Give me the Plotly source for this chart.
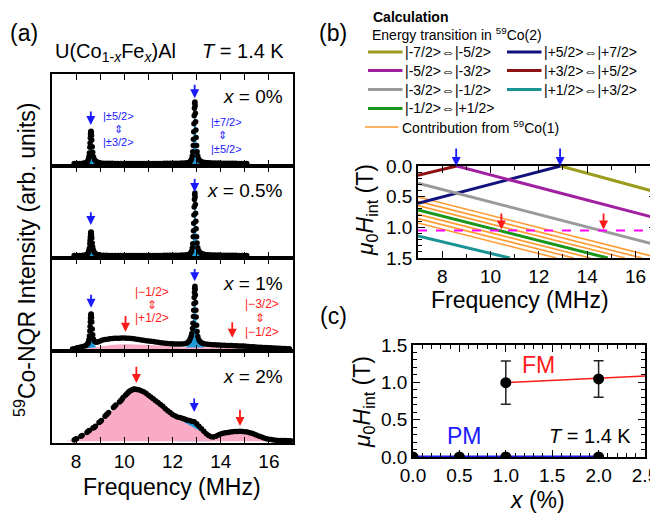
import plotly.graph_objects as go

# page is offset by the browser's default 8 px body margin; compensate
OFF = 8
W, H = 650, 510
FONT = "Liberation Sans, Arial, sans-serif"

# ---------------- panel (a): 59Co-NQR spectra (frequency MHz, intensity arb.) ----------------
spec_x0 = [(7.92,0.010),(8.04,0.010),(8.16,0.012),(8.28,0.014),(8.36,0.018),(8.42,0.025),(8.47,0.04),
           (8.50,0.07),(8.53,0.12),(8.55,0.18),(8.57,0.27),(8.58,0.34),(8.59,0.42),(8.60,0.48),(8.61,0.52),
           (8.62,0.53),(8.63,0.51),(8.64,0.46),(8.65,0.39),(8.67,0.28),(8.69,0.19),(8.72,0.12),(8.76,0.075),
           (8.81,0.050),(8.87,0.035),(8.94,0.025),(9.02,0.019),
           (9.14,0.015),(9.26,0.014),(9.38,0.013),(9.50,0.013),(9.62,0.012),(9.74,0.012),(9.86,0.012),(9.98,0.011),
           (10.10,0.011),(10.22,0.011),(10.34,0.011),(10.46,0.011),(10.58,0.011),(10.70,0.011),(10.82,0.011),
           (10.94,0.011),(11.06,0.012),(11.18,0.012),(11.30,0.012),(11.42,0.012),(11.54,0.012),(11.66,0.013),
           (11.78,0.013),(11.90,0.013),(12.02,0.014),(12.14,0.015),(12.26,0.016),(12.38,0.017),(12.50,0.019),
           (12.60,0.022),(12.66,0.026),(12.71,0.032),(12.75,0.05),(12.79,0.08),(12.82,0.13),(12.84,0.20),
           (12.86,0.30),(12.87,0.40),(12.88,0.52),(12.89,0.65),(12.90,0.78),(12.91,0.90),(12.92,0.98),
           (12.93,1.00),(12.94,0.94),(12.95,0.82),(12.96,0.68),(12.97,0.55),(12.98,0.43),(13.00,0.30),
           (13.02,0.20),(13.05,0.13),(13.09,0.08),(13.14,0.055),(13.20,0.040),(13.27,0.032),(13.35,0.027),
           (13.44,0.023),(13.54,0.021),(13.66,0.020),(13.78,0.018),(13.90,0.017),(14.02,0.016),
           (14.14,0.015),(14.26,0.014),(14.38,0.014),(14.50,0.013),(14.62,0.013),(14.74,0.012),(14.86,0.012),
           (14.98,0.012),(15.08,0.011)]

spec_x05 = [(7.92,0.010),(8.04,0.010),(8.16,0.011),(8.28,0.013),(8.36,0.016),(8.42,0.022),(8.47,0.035),
            (8.50,0.055),(8.53,0.09),(8.55,0.13),(8.57,0.20),(8.58,0.25),(8.59,0.30),(8.60,0.35),(8.61,0.38),
            (8.62,0.39),(8.63,0.375),(8.64,0.34),(8.65,0.29),(8.67,0.21),(8.69,0.145),(8.72,0.095),(8.76,0.06),
            (8.81,0.040),(8.87,0.028),(8.94,0.021),(9.02,0.016),
            (9.14,0.014),(9.26,0.013),(9.38,0.012),(9.50,0.012),(9.62,0.012),(9.74,0.011),(9.86,0.011),(9.98,0.011),
            (10.10,0.011),(10.22,0.011),(10.34,0.011),(10.46,0.011),(10.58,0.011),(10.70,0.011),(10.82,0.011),
            (10.94,0.011),(11.06,0.011),(11.18,0.012),(11.30,0.012),(11.42,0.012),(11.54,0.012),(11.66,0.013),
            (11.78,0.013),(11.90,0.013),(12.02,0.014),(12.14,0.015),(12.26,0.016),(12.38,0.018),(12.50,0.020),
            (12.60,0.023),(12.66,0.027),(12.71,0.033),(12.75,0.05),(12.79,0.08),(12.82,0.13),(12.84,0.20),
            (12.86,0.31),(12.87,0.41),(12.88,0.53),(12.89,0.66),(12.90,0.79),(12.91,0.91),(12.92,0.99),
            (12.93,1.015),(12.94,0.95),(12.95,0.83),(12.96,0.69),(12.97,0.56),(12.98,0.44),(13.00,0.31),
            (13.02,0.21),(13.05,0.135),(13.09,0.085),(13.14,0.058),(13.20,0.042),(13.27,0.033),(13.35,0.027),
            (13.44,0.023),(13.54,0.021),(13.66,0.020),(13.78,0.018),(13.90,0.017),(14.02,0.016),
            (14.14,0.015),(14.26,0.014),(14.38,0.014),(14.50,0.013),(14.62,0.013),(14.74,0.012),(14.86,0.012),
            (14.98,0.011),(15.08,0.011)]

spec_x1 = [(7.85,0.000),(7.95,0.010),(8.05,0.020),(8.15,0.030),(8.26,0.040),(8.36,0.050),(8.42,0.060),
           (8.47,0.08),(8.50,0.10),(8.53,0.15),(8.55,0.21),(8.57,0.29),(8.58,0.36),(8.59,0.43),(8.60,0.49),
           (8.61,0.54),(8.62,0.56),(8.63,0.55),(8.64,0.50),(8.65,0.43),(8.67,0.32),(8.69,0.23),(8.72,0.16),
           (8.76,0.125),(8.82,0.110),(8.90,0.115),
           (9.00,0.130),(9.10,0.145),(9.20,0.152),(9.30,0.158),(9.40,0.163),(9.50,0.168),(9.60,0.171),
           (9.70,0.173),(9.80,0.174),(9.90,0.175),(10.00,0.175),(10.10,0.174),(10.20,0.172),(10.30,0.168),
           (10.40,0.163),(10.50,0.158),(10.60,0.153),(10.70,0.147),(10.80,0.141),(10.90,0.135),(11.00,0.130),
           (11.10,0.125),(11.20,0.120),(11.30,0.114),(11.40,0.108),(11.50,0.103),(11.60,0.098),(11.70,0.094),
           (11.80,0.090),(11.90,0.087),(12.00,0.084),(12.10,0.082),(12.20,0.081),(12.30,0.080),(12.40,0.080),
           (12.50,0.085),(12.58,0.095),(12.64,0.11),(12.69,0.13),(12.73,0.16),(12.77,0.20),(12.80,0.25),
           (12.83,0.33),(12.85,0.41),(12.87,0.52),(12.88,0.62),(12.89,0.72),(12.90,0.82),(12.91,0.90),
           (12.92,0.97),(12.93,1.00),(12.94,0.95),(12.95,0.86),(12.96,0.74),(12.97,0.62),(12.98,0.51),
           (13.00,0.38),(13.02,0.28),(13.05,0.20),(13.09,0.15),
           (13.14,0.12),(13.20,0.100),(13.27,0.090),(13.35,0.082),(13.45,0.078),(13.55,0.074),(13.65,0.070),
           (13.75,0.068),(13.85,0.066),(13.95,0.064),(14.05,0.062),(14.15,0.060),(14.25,0.058),(14.35,0.057),
           (14.45,0.056),(14.55,0.055),(14.65,0.053),(14.75,0.051),(14.85,0.050),(14.95,0.048),(15.05,0.045),
           (15.15,0.042),(15.25,0.039),(15.35,0.036),(15.45,0.034),(15.55,0.031),(15.65,0.029),(15.75,0.027),
           (15.85,0.025),(15.95,0.023),(16.05,0.021),(16.15,0.019),(16.25,0.017),(16.35,0.015),(16.45,0.013),
           (16.55,0.011),(16.65,0.009),(16.75,0.007),(16.85,0.005)]

spec_x2 = [(7.92,0.02),(7.97,0.03),(8.02,0.04),(8.20,0.08),(8.25,0.09),(8.45,0.14),(8.50,0.16),(8.55,0.17),
           (8.70,0.21),(8.75,0.22),(8.80,0.24),(8.95,0.30),(9.00,0.31),(9.05,0.33),(9.20,0.40),(9.25,0.42),
           (9.30,0.44),(9.35,0.46),(9.55,0.54),(9.60,0.56),(9.65,0.58),(9.80,0.63),(9.85,0.65),(9.90,0.67),
           (9.95,0.70),(10.05,0.74),(10.10,0.76),(10.15,0.78),(10.20,0.80),(10.25,0.81),(10.30,0.82),
           (10.35,0.83),(10.40,0.84),(10.45,0.835),(10.50,0.83),(10.55,0.83),(10.60,0.825),(10.70,0.81),
           (10.80,0.795),(10.90,0.77),(11.00,0.74),(11.10,0.71),(11.20,0.68),(11.30,0.65),(11.40,0.62),
           (11.50,0.59),(11.60,0.56),(11.70,0.52),(11.80,0.49),(11.90,0.46),(12.00,0.43),(12.10,0.41),
           (12.20,0.39),(12.30,0.38),(12.40,0.37),(12.50,0.355),(12.60,0.34),(12.70,0.33),(12.80,0.32),
           (12.90,0.31),(13.00,0.28),(13.10,0.24),(13.20,0.20),(13.30,0.16),(13.40,0.12),(13.50,0.09),
           (13.60,0.07),(13.70,0.065),(13.80,0.08),(13.90,0.10),(14.00,0.115),(14.10,0.125),(14.20,0.135),
           (14.30,0.14),(14.40,0.145),(14.50,0.15),(14.60,0.155),(14.70,0.155),(14.80,0.16),(14.90,0.155),
           (15.00,0.15),(15.10,0.145),(15.20,0.135),(15.30,0.125),(15.40,0.11),(15.50,0.095),(15.60,0.08),
           (15.70,0.065),(15.80,0.05),(15.90,0.04),(16.00,0.03),(16.10,0.025),(16.20,0.02),(16.30,0.015),
           (16.40,0.012),(16.50,0.01),(16.60,0.01),(16.70,0.01),(16.80,0.008),(16.90,0.008)]

# fits of the 59Co(2) lines (blue) and broad component (pink)
blue_x0 = [[(8.44,0.01),(8.50,0.05),(8.54,0.12),(8.57,0.25),(8.59,0.40),(8.61,0.50),(8.62,0.52),(8.63,0.50),
            (8.65,0.38),(8.67,0.25),(8.70,0.12),(8.74,0.05),(8.82,0.01)],
           [(12.72,0.01),(12.79,0.05),(12.84,0.16),(12.87,0.38),(12.90,0.74),(12.92,0.96),(12.93,0.99),
            (12.95,0.80),(12.97,0.52),(13.00,0.26),(13.04,0.10),(13.10,0.03),(13.20,0.01)]]
blue_x05 = [[(8.44,0.01),(8.50,0.04),(8.54,0.09),(8.57,0.19),(8.59,0.30),(8.61,0.37),(8.62,0.385),(8.63,0.37),
             (8.65,0.28),(8.67,0.19),(8.70,0.09),(8.74,0.04),(8.82,0.01)],
            [(12.72,0.01),(12.79,0.05),(12.84,0.16),(12.87,0.39),(12.90,0.75),(12.92,0.97),(12.93,1.00),
             (12.95,0.81),(12.97,0.53),(13.00,0.26),(13.04,0.10),(13.10,0.03),(13.20,0.01)]]
blue_x1 = [[(8.40,0.01),(8.48,0.06),(8.53,0.14),(8.56,0.26),(8.59,0.42),(8.61,0.52),(8.62,0.55),(8.63,0.53),
            (8.65,0.41),(8.67,0.29),(8.70,0.16),(8.74,0.08),(8.82,0.04)],
           [(12.55,0.03),(12.68,0.07),(12.76,0.16),(12.82,0.30),(12.86,0.52),(12.89,0.75),(12.91,0.90),
            (12.93,0.98),(12.95,0.84),(12.97,0.60),(13.00,0.36),(13.04,0.19),(13.10,0.10),(13.20,0.06),(13.32,0.035)]]
blue_x2 = [[(12.20,0.37),(12.40,0.365),(12.60,0.345),(12.80,0.325),(12.90,0.315),(13.00,0.285),
            (13.20,0.205),(13.40,0.12),(13.60,0.065)]]
pink_x1 = [(7.85,0.0),(8.10,0.005),(8.40,0.010),(8.65,0.020),(8.96,0.040),(9.30,0.060),(9.70,0.072),
           (10.07,0.077),(10.50,0.074),(11.04,0.066),(11.50,0.052),(12.00,0.036),(12.43,0.026),(13.10,0.024),
           (13.82,0.028),(14.50,0.028),(15.00,0.022),(15.50,0.014),(16.00,0.008),(16.60,0.002),(16.90,0.0)]
pink_x2 = [(7.50,0.0),(7.70,0.005),(7.90,0.02),(8.20,0.08),(8.50,0.16),(8.80,0.24),(9.10,0.35),(9.40,0.47),
           (9.70,0.58),(10.00,0.72),(10.30,0.81),(10.50,0.825),(10.70,0.80),(11.00,0.73),(11.30,0.64),
           (11.60,0.55),(11.90,0.45),(12.20,0.37),(12.50,0.30),(12.80,0.24),(13.10,0.18),(13.40,0.11),
           (13.60,0.065),(13.80,0.075),(14.10,0.12),(14.50,0.145),(14.80,0.155),(15.10,0.14),(15.40,0.105),
           (15.70,0.06),(16.00,0.025),(16.30,0.01),(16.90,0.0)]

conc_labels = ["0%", "0.5%", "1%", "2%"]

# ---------------- panel (b): calculated transition lines (freq MHz, mu0Hint T) ----------------
trans_names = ["|-7/2>⇔|-5/2>", "|-5/2>⇔|-3/2>", "|-3/2>⇔|-1/2>", "|-1/2>⇔|+1/2>",
               "|+5/2>⇔|+7/2>", "|+3/2>⇔|+5/2>", "|+1/2>⇔|+3/2>"]
trans_colors = ["#9B9B1E", "#A020A0", "#9A9A9A", "#1A961A", "#12127F", "#8E1212", "#1A9494"]
trans_f = [(12.9, 17.0), (8.6, 17.0), (7.0, 17.0), (7.0, 14.85), (7.0, 12.9), (7.0, 8.6), (7.0, 10.8)]
trans_h = [(0.0, 0.44), (0.0, 0.865), (0.28, 1.30), (0.717, 1.5), (0.61, 0.0), (0.15, 0.0), (1.14, 1.5)]
orange_f = [(7.0, 16.98), (7.0, 16.27), (7.0, 15.57), (7.0, 14.85), (7.0, 14.14), (7.0, 13.44), (7.0, 12.73)]
orange_h = [(0.505, 1.5), (0.576, 1.5), (0.646, 1.5), (0.717, 1.5), (0.788, 1.5), (0.858, 1.5), (0.929, 1.5)]
hint_level = 1.05

# ---------------- panel (c): internal field vs Fe concentration ----------------
fm_x = [1.0, 2.0]
fm_h = [0.995, 1.045]
fm_err = [0.29, 0.245]
pm_x = [0.0, 0.5, 1.0, 2.0]
pm_h = [0.0, 0.0, 0.0, 0.0]
fm_line_x = [1.0, 2.5]
fm_line_h = [0.995, 1.085]
pm_line_x = [0.0, 2.0]
pm_line_h = [0.0, 0.0]

BLUEFILL = "#1E9BD7"
PINK = "#F9AAC4"
ABLUE = "#1A1AFF"
ARED = "#FF1A1A"
ORANGE = "#FF9A30"


def px(x):
    return (x - OFF) / W


def py(y):
    return 1 - (y - OFF) / H


fig = go.Figure()
ann = []
shapes = []


def text(x, y, s, size, color="black", xanchor="center", angle=0):
    ann.append(dict(x=px(x), y=py(y), xref="paper", yref="paper", text=s, showarrow=False,
                    xanchor=xanchor, yanchor="middle", textangle=angle,
                    font=dict(family=FONT, size=size, color=color)))


def arrow(xr, yr, x, ytip, ytail, color):
    ann.append(dict(x=x, y=ytip, ax=x, ay=ytail, xref=xr, yref=yr, axref=xr, ayref=yr, text="",
                    showarrow=True, arrowhead=2, arrowsize=1, arrowwidth=1.8, arrowcolor=color,
                    standoff=0, startstandoff=0))


def unzip(pairs):
    return [p[0] for p in pairs], [p[1] for p in pairs]


# ---- panel (a) ----
a_tops = [74, 166, 258, 351]
a_bots = [166, 258, 351, 443]
specs = [spec_x0, spec_x05, spec_x1, spec_x2]
blues = [blue_x0, blue_x05, blue_x1, blue_x2]
pinks = [None, None, pink_x1, pink_x2]

for i in range(4):
    xr = "x" if i == 0 else f"x{i+1}"
    yr = "y" if i == 0 else f"y{i+1}"
    for b in blues[i]:
        bx, by = unzip(b)
        fig.add_trace(go.Scatter(x=bx, y=by, mode="lines", line=dict(width=0, color=BLUEFILL),
                                 fill="tozeroy", fillcolor=BLUEFILL, xaxis=xr, yaxis=yr, hoverinfo="skip"))
    if pinks[i] is not None:
        qx, qy = unzip(pinks[i])
        fig.add_trace(go.Scatter(x=qx, y=qy, mode="lines", line=dict(width=0, color=PINK),
                                 fill="tozeroy", fillcolor=PINK, xaxis=xr, yaxis=yr, hoverinfo="skip"))
    sx, sy = unzip(specs[i])
    fig.add_trace(go.Scatter(x=sx, y=sy, mode="markers", marker=dict(color="black", size=5.5),
                             xaxis=xr, yaxis=yr))

# ---- panel (b) ----
for (f1, f2), (h1, h2) in zip(orange_f, orange_h):
    fig.add_trace(go.Scatter(x=[f1, f2], y=[h1, h2], mode="lines", line=dict(color=ORANGE, width=1.6),
                             xaxis="x5", yaxis="y5"))
for k in [6, 5, 4, 2, 3, 1, 0]:
    fig.add_trace(go.Scatter(x=list(trans_f[k]), y=list(trans_h[k]), mode="lines",
                             line=dict(color=trans_colors[k], width=3), xaxis="x5", yaxis="y5"))
fig.add_trace(go.Scatter(x=[7.0, 17.0], y=[hint_level, hint_level], mode="lines",
                         line=dict(color="#FF00FF", width=2, dash="dash"), xaxis="x5", yaxis="y5"))

# ---- panel (c) ----
fig.add_trace(go.Scatter(x=pm_line_x, y=pm_line_h, mode="lines", line=dict(color="#1A1AFF", width=3),
                         xaxis="x6", yaxis="y6"))
fig.add_trace(go.Scatter(x=fm_line_x, y=fm_line_h, mode="lines", line=dict(color="#FF1A1A", width=1.5),
                         xaxis="x6", yaxis="y6"))
fig.add_trace(go.Scatter(x=pm_x, y=pm_h, mode="markers", marker=dict(color="black", size=11),
                         xaxis="x6", yaxis="y6"))
fig.add_trace(go.Scatter(x=fm_x, y=fm_h, mode="markers", marker=dict(color="black", size=11),
                         error_y=dict(type="data", array=fm_err, color="#222222", thickness=1.5, width=5),
                         xaxis="x6", yaxis="y6"))

# ---- axes ----
layout = dict(width=W, height=H, margin=dict(l=0, r=0, t=0, b=0, pad=0, autoexpand=False),
              showlegend=False, paper_bgcolor="white", plot_bgcolor="white",
              font=dict(family=FONT, color="black"))

common = dict(showline=True, linecolor="black", linewidth=1.5, showgrid=False, zeroline=False,
              automargin=False, ticks="inside", tickcolor="black", ticklabeloverflow="allow",
              tickfont=dict(family=FONT, size=19, color="black"))

for i in range(4):
    xn = "xaxis" if i == 0 else f"xaxis{i+1}"
    yn = "yaxis" if i == 0 else f"yaxis{i+1}"
    ya = "y" if i == 0 else f"y{i+1}"
    xa = "x" if i == 0 else f"x{i+1}"
    layout[xn] = dict(common, domain=[px(52), px(293)], range=[7, 17], anchor=ya, mirror="ticks",
                      tick0=8, dtick=2, ticklen=6, tickwidth=1.2,
                      minor=dict(dtick=1, tick0=7, ticks="inside", ticklen=6, tickwidth=1.2, tickcolor="black"),
                      showticklabels=(i == 3))
    layout[yn] = dict(showline=True, linecolor="black", linewidth=1.5, mirror=True, ticks="",
                      showticklabels=False, showgrid=False, zeroline=False, automargin=False,
                      domain=[py(a_bots[i]), py(a_tops[i])], range=[-0.03, 1.45], anchor=xa)

layout["xaxis5"] = dict(common, domain=[px(418), px(656)], range=[7, 16.85], anchor="y5", mirror="ticks",
                        tick0=8, dtick=2, ticklen=7, tickwidth=1.2,
                        minor=dict(dtick=1, tick0=7, ticks="inside", ticklen=4, tickwidth=1.2, tickcolor="black"))
layout["yaxis5"] = dict(common, domain=[py(258), py(166)], range=[1.5, 0], anchor="x5", mirror="ticks",
                        tick0=0, dtick=0.5, tickformat=".1f", ticklen=7, tickwidth=1.2,
                        minor=dict(dtick=0.1, tick0=0, ticks="inside", ticklen=4, tickwidth=1.2, tickcolor="black"))
layout["xaxis6"] = dict(common, domain=[px(413), px(645)], range=[0, 2.5], anchor="y6", mirror="ticks",
                        tick0=0, dtick=0.5, tickformat=".1f", ticklen=7, tickwidth=1.2,
                        minor=dict(dtick=0.1, tick0=0, ticks="inside", ticklen=4, tickwidth=1.2, tickcolor="black"))
layout["yaxis6"] = dict(common, domain=[py(457), py(345)], range=[0, 1.5], anchor="x6", mirror="ticks",
                        tick0=0, dtick=0.5, tickformat=".1f", ticklen=7, tickwidth=1.2,
                        minor=dict(dtick=0.1, tick0=0, ticks="inside", ticklen=4, tickwidth=1.2, tickcolor="black"))

# ---- texts panel (a) ----
text(24, 33, "(a)", 23)
text(115, 52, "U(Co<sub>1-<i>x</i></sub>Fe<sub><i>x</i></sub>)Al", 20)
text(243, 51, "<i>T</i> = 1.4 K", 20)
for lab, yc in zip(conc_labels, [96, 190, 283, 376]):
    text(285, yc, "<i>x</i> = " + lab, 19, xanchor="right")
text(25, 260, "<sup>59</sup>Co-NQR Intensity (arb. units)", 23, angle=-90)
text(172, 487, "Frequency (MHz)", 23)

text(118, 116, "|±5/2>", 11, ABLUE)
text(119, 129, "⇕", 11, ABLUE)
text(118, 142, "|±3/2>", 11, ABLUE)
text(226, 122, "|±7/2>", 11, ABLUE)
text(222, 135, "⇕", 11, ABLUE)
text(226, 149, "|±5/2>", 11, ABLUE)

text(152, 292, "|−1/2>", 12, ARED)
text(152, 305, "⇕", 12, ARED)
text(152, 318, "|+1/2>", 12, ARED)
text(262, 304, "|−3/2>", 12, ARED)
text(260, 318, "⇕", 12, ARED)
text(262, 332, "|−1/2>", 12, ARED)

# arrows panel (a)
arrow("x", "y", 8.61, 0.63, 0.87, ABLUE)
arrow("x", "y", 12.92, 1.06, 1.30, ABLUE)
arrow("x2", "y2", 8.61, 0.50, 0.73, ABLUE)
arrow("x2", "y2", 12.92, 1.03, 1.27, ABLUE)
arrow("x3", "y3", 8.62, 0.66, 0.89, ABLUE)
arrow("x3", "y3", 12.92, 1.08, 1.30, ABLUE)
arrow("x3", "y3", 10.05, 0.275, 0.55, ARED)
arrow("x3", "y3", 14.48, 0.18, 0.45, ARED)
arrow("x4", "y4", 10.5, 0.935, 1.22, ARED)
arrow("x4", "y4", 12.9, 0.47, 0.71, ABLUE)
arrow("x4", "y4", 14.8, 0.245, 0.53, ARED)

# ---- texts panel (b) ----
text(333, 33, "(b)", 23)
text(371, 16.5, "<b>Calculation</b>", 14, xanchor="left")
text(370, 34, "Energy transition in <sup>59</sup>Co(2)", 14, xanchor="left")
rows = [52, 70.5, 89.5, 108.5]
for k in range(4):
    shapes.append(dict(type="line", xref="paper", yref="paper", x0=px(368), x1=px(402.5),
                       y0=py(rows[k]), y1=py(rows[k]), line=dict(color=trans_colors[k], width=3)))
    text(403, rows[k], trans_names[k], 14, xanchor="left")
for k in range(4, 7):
    r = rows[k - 4]
    shapes.append(dict(type="line", xref="paper", yref="paper", x0=px(507), x1=px(541.5),
                       y0=py(r), y1=py(r), line=dict(color=trans_colors[k], width=3)))
    text(542, r, trans_names[k], 14, xanchor="left")
shapes.append(dict(type="line", xref="paper", yref="paper", x0=px(365), x1=px(398.5),
                   y0=py(127), y1=py(127), line=dict(color=ORANGE, width=1.6)))
text(400, 127, "Contribution from <sup>59</sup>Co(1)", 14, xanchor="left")
text(367, 210, "<i>μ</i><sub>0</sub><i>H</i><sub>int</sub> (T)", 23, angle=-90)
text(520, 300, "Frequency (MHz)", 23)

arrow("x5", "y5", 8.58, 0.0, -0.31, ABLUE)
arrow("x5", "y5", 12.88, 0.0, -0.31, ABLUE)
arrow("x5", "y5", 10.45, 1.035, 0.75, ARED)
arrow("x5", "y5", 14.68, 1.035, 0.75, ARED)

# ---- texts panel (c) ----
text(333, 316, "(c)", 23)
text(363, 402, "<i>μ</i><sub>0</sub><i>H</i><sub>int</sub> (T)", 23, angle=-90)
text(537, 500, "<i>x</i> (%)", 23)
text(538, 365, "FM", 23, "#FF1A1A")
text(464, 436, "PM", 23, "#1A1AFF")
text(590, 436, "<i>T</i> = 1.4 K", 20)

layout["annotations"] = ann
layout["shapes"] = shapes
fig.update_layout(**layout)
fig.write_html("out.html")
